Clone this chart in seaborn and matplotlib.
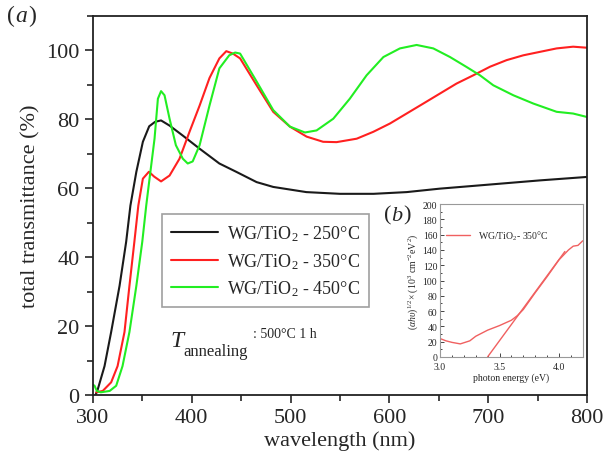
import numpy as np
import pandas as pd
import matplotlib
matplotlib.use("Agg")
import matplotlib.pyplot as plt
import seaborn as sns
from matplotlib.ticker import MultipleLocator
from matplotlib.lines import Line2D

sns.set_style("ticks")
plt.rcParams['font.family'] = ['Liberation Serif', 'DejaVu Serif']
plt.rcParams['mathtext.fontset'] = 'custom'
plt.rcParams['mathtext.rm'] = 'Liberation Serif'
plt.rcParams['mathtext.it'] = 'Liberation Serif:italic'

# ---- main panel data (wavelength nm, transmittance %) ----
wl_250 = [302.7, 305, 311.8, 318.5, 327, 333.7, 338, 344, 350.6, 357, 363, 369, 377.6, 391, 408,
          428, 445, 465.7, 482.5, 516, 550, 584, 617.5, 651, 685, 718.7, 752.4, 800]
t_250 = [0, 1.7, 8.4, 18.3, 31.7, 44.5, 55, 64.8, 73.5, 78, 79.3, 79.7, 78.2, 75.3, 71.5,
         67.2, 64.8, 61.8, 60.4, 58.9, 58.4, 58.4, 58.9, 59.9, 60.7, 61.5, 62.3, 63.3]

wl_350 = [303.4, 310, 318.5, 325, 332, 337, 342, 346, 350.6, 356.7, 362, 369, 377.6, 387.7, 397.8,
          408, 418, 428, 435, 441.7, 449, 465.7, 482.5, 499.4, 516.3, 533, 546.6, 567, 583.8,
          600.6, 617.5, 634.4, 651.2, 668, 685, 702, 718.7, 735.6, 752.4, 769.3, 786, 800]
t_350 = [0.8, 1.2, 3.7, 8.4, 18.3, 31.7, 44.5, 55, 62.8, 64.8, 63.4, 62, 63.7, 68.6, 76.4,
         84, 92, 97.7, 99.8, 99.1, 97.7, 89.9, 82.2, 77.9, 75, 73.5, 73.4, 74.4, 76.4,
         78.8, 81.7, 84.6, 87.5, 90.4, 92.8, 95.3, 97.2, 98.6, 99.6, 100.6, 101.1, 100.8]

wl_450 = [300, 301.7, 304, 308, 317, 323.6, 330, 337, 344, 350, 354, 357, 362.4, 365.8, 369,
          372.5, 377.6, 384, 391, 396, 401, 408, 418, 428, 438, 444, 449, 465.7, 482.5, 499.4,
          514.6, 526.4, 543.3, 560, 577, 594, 610.7, 627.6, 644.5, 661.4, 678.2, 691.7, 705.2,
          725.5, 745.7, 769.3, 786, 800]
t_450 = [3, 2.7, 1.2, 0.8, 1.2, 2.7, 8.4, 18.3, 31.7, 44.5, 55, 62, 74.4, 86, 88.2,
         87, 80.2, 72.5, 68.6, 67.2, 67.8, 72.5, 84, 94.8, 98.6, 99.4, 99.1, 91, 82.7, 77.9,
         76.2, 76.8, 80.2, 86, 92.8, 98.1, 100.6, 101.6, 100.6, 98.1, 95.2, 92.8, 89.9,
         87, 84.6, 82.2, 81.7, 80.7]

labels = ['WG/TiO$_2$ - 250°C', 'WG/TiO$_2$ - 350°C', 'WG/TiO$_2$ - 450°C']
colors = ['#1a1a1a', '#ff2020', '#22ee22']

# ---- inset data (photon energy eV, (alpha h nu)^1/2) ----
e_inset = [3.0, 3.05, 3.1, 3.17, 3.25, 3.3, 3.4, 3.5, 3.6, 3.65, 3.7, 3.8, 3.9, 4.0, 4.08, 4.12, 4.16, 4.2]
a_inset = [24, 21, 19, 17, 21, 27, 35, 41, 48, 54, 62, 84, 105, 127, 140, 145, 146, 152]
fit_e = [3.4, 4.05]
fit_a = [0, 138]
inset_label = 'WG/TiO$_2$- 350°C'

df = pd.concat([
    pd.DataFrame({'wl': wl_250, 't': t_250, 'sample': labels[0]}),
    pd.DataFrame({'wl': wl_350, 't': t_350, 'sample': labels[1]}),
    pd.DataFrame({'wl': wl_450, 't': t_450, 'sample': labels[2]}),
], ignore_index=True)

fig = plt.figure(figsize=(6.07, 4.60), dpi=100)
ax = fig.add_axes([0.153, 0.139, 0.814, 0.824])
sns.lineplot(data=df, x='wl', y='t', hue='sample', palette=dict(zip(labels, colors)),
             sort=False, estimator=None, linewidth=1.5, ax=ax, legend=False)
ax.set_xlim(300, 800)
ax.set_ylim(0, 110)
ax.set_xticks([300, 400, 500, 600, 700, 800])
ax.set_yticks([0, 20, 40, 60, 80, 100])
ax.xaxis.set_minor_locator(MultipleLocator(50))
ax.yaxis.set_minor_locator(MultipleLocator(10))
ax.tick_params(which='both', direction='out', labelsize=16, width=1.2)
ax.tick_params(which='major', length=6)
ax.tick_params(which='minor', length=4)
for s in ax.spines.values():
    s.set_visible(True)
    s.set_linewidth(1.3)
    s.set_color('#222222')
ax.set_xlabel('wavelength (nm)', fontsize=16, labelpad=2)
ax.set_ylabel('total transmittance (%)', fontsize=16, labelpad=4)

handles = [Line2D([], [], color=c, lw=1.5) for c in colors]
leg = ax.legend(handles, labels, loc='upper left', bbox_to_anchor=(162 / 607, 1 - 215 / 460),
                bbox_transform=fig.transFigure,
                fontsize=13, frameon=True, fancybox=False, edgecolor='#888888',
                handlelength=2.6, handletextpad=0.5, borderpad=0.5, labelspacing=0.45,
                borderaxespad=0)
leg.get_frame().set_linewidth(1.2)

fig.text(170 / 607, 1 - 347 / 460, 'T', fontsize=17, style='italic', va='baseline')
fig.text(183 / 607, 1 - 356 / 460, 'annealing', fontsize=12, va='baseline')
fig.text(253 / 607, 1 - 338 / 460, ': 500°C 1 h', fontsize=10, va='baseline')
fig.text(0.012, 0.952, '(', fontsize=17)
fig.text(0.025, 0.952, 'a', fontsize=17, style='italic')
fig.text(0.046, 0.952, ')', fontsize=17)
fig.text(0.632, 0.52, '(', fontsize=16)
fig.text(0.644, 0.52, 'b', fontsize=16, style='italic')
fig.text(0.665, 0.52, ')', fontsize=16)

# ---- inset ----
axi = fig.add_axes([0.725, 0.222, 0.235, 0.332])
inset_df = pd.DataFrame({'e': e_inset, 'a': a_inset})
fit_df = pd.DataFrame({'e': fit_e, 'a': fit_a})
sns.lineplot(data=inset_df, x='e', y='a', color='#f06060', linewidth=1.0, ax=axi,
             sort=False, estimator=None, label=inset_label)
sns.lineplot(data=fit_df, x='e', y='a', color='#f06060', linewidth=1.0, ax=axi,
             sort=False, estimator=None)
axi.set_xlim(3.0, 4.2)
axi.set_ylim(0, 200)
axi.set_xticks([3.0, 3.5, 4.0])
axi.set_yticks(range(0, 201, 20))
axi.xaxis.set_minor_locator(MultipleLocator(0.1))
axi.yaxis.set_minor_locator(MultipleLocator(10))
axi.tick_params(which='both', direction='in', labelsize=7, width=0.6)
axi.tick_params(axis='x', pad=4)
axi.tick_params(axis='y', pad=2)
axi.tick_params(which='major', length=3)
axi.tick_params(which='minor', length=1.5)
for s in axi.spines.values():
    s.set_visible(True)
    s.set_linewidth(0.8)
    s.set_color('#999999')
axi.set_xlabel('photon energy (eV)', fontsize=7, labelpad=1)
axi.set_ylabel('$(\\mathit{\\alpha h\\upsilon})^{1/2}$× (10$^3$ cm$^{-2}$eV$^2$)', fontsize=7, labelpad=2)
lg = axi.legend(loc='upper left', frameon=False, fontsize=7, handlelength=2.5,
                bbox_to_anchor=(-0.02, 0.9))

fig.savefig('out.png', dpi=100)
